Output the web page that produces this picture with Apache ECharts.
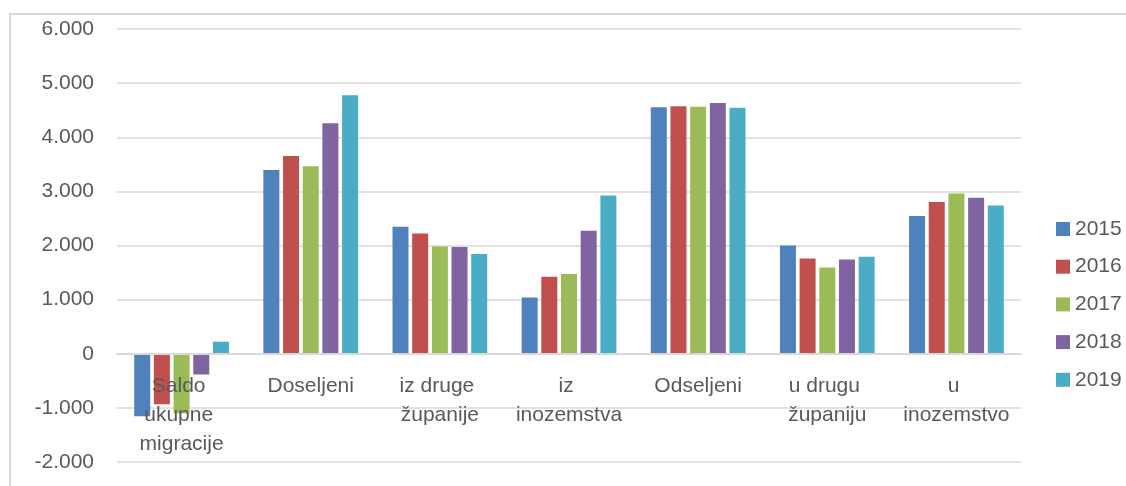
<!DOCTYPE html>
<html>
<head>
<meta charset="utf-8">
<script src="https://cdn.jsdelivr.net/npm/echarts@6/dist/echarts.min.js"></script>
<style>
  html, body { margin: 0; padding: 0; background: #fff; }
  #chart { width: 1126px; height: 486px; }
</style>
</head>
<body>
<div id="chart"></div>
<script>
const categories = ['Saldo ukupne migracije', 'Doseljeni', 'iz druge županije', 'iz inozemstva', 'Odseljeni', 'u drugu županiju', 'u inozemstvo'];
const years = ['2015', '2016', '2017', '2018', '2019'];
const v2015 = [-1155, 3394, 2347, 1041, 4553, 2002, 2544];
const v2016 = [-931, 3653, 2224, 1423, 4571, 1762, 2802];
const v2017 = [-1098, 3462, 1983, 1472, 4565, 1595, 2963];
const v2018 = [-383, 4257, 1971, 2274, 4632, 1743, 2883];
const v2019 = [222, 4775, 1841, 2926, 4547, 1793, 2741];
const yTicks = { min: -2000, max: 6000, interval: 1000 };

const colors = ['#4F81BD', '#C0504D', '#9BBB59', '#8064A2', '#4BACC6'];
const seriesData = [v2015, v2016, v2017, v2018, v2019];
const font = '"Liberation Sans", Arial, sans-serif';
const textColor = '#595959';

function fmt(v) {
  const s = Math.abs(v).toString().replace(/\B(?=(\d{3})+(?!\d))/g, '.');
  return (v < 0 ? '-' : '') + s;
}

const chart = echarts.init(document.getElementById('chart'), null, { renderer: 'canvas' });
chart.setOption({
  animation: false,
  color: colors,
  textStyle: { fontFamily: font },
  graphic: [{
    type: 'rect',
    shape: { x: 10, y: 14, width: 1200, height: 600 },
    style: { fill: 'none', stroke: '#d9d9d9', lineWidth: 2 },
    silent: true,
    z: -10
  }],
  grid: { left: 117, right: 105, top: 29, bottom: 24, containLabel: false, outerBoundsMode: 'none' },
  legend: {
    orient: 'vertical',
    left: 1051,
    top: 212,
    itemWidth: 14,
    itemHeight: 14,
    itemGap: 13.7,
    icon: 'rect',
    textStyle: { fontSize: 21, color: textColor, fontFamily: font, lineHeight: 24 },
    data: years
  },
  xAxis: {
    type: 'category',
    data: categories,
    axisLine: { show: true, onZero: true, lineStyle: { color: '#d9d9d9', width: 2 } },
    axisTick: { show: false },
    axisLabel: {
      interval: 0,
      margin: -90,
      fontSize: 21,
      lineHeight: 29,
      color: textColor,
      fontFamily: font,
      width: 110,
      overflow: 'break'
    },
    z: 5
  },
  yAxis: {
    type: 'value',
    min: yTicks.min,
    max: yTicks.max,
    interval: yTicks.interval,
    axisLine: { show: false },
    axisTick: { show: false },
    axisLabel: {
      fontSize: 21,
      color: textColor,
      fontFamily: font,
      margin: 23,
      formatter: fmt
    },
    splitLine: { lineStyle: { color: '#d9d9d9', width: 1.5 } }
  },
  series: years.map((y, i) => ({
    name: y,
    type: 'bar',
    data: seriesData[i],
    barWidth: 16,
    barGap: '23%',
    itemStyle: { color: colors[i] },
    z: 2
  }))
});
</script>
</body>
</html>
